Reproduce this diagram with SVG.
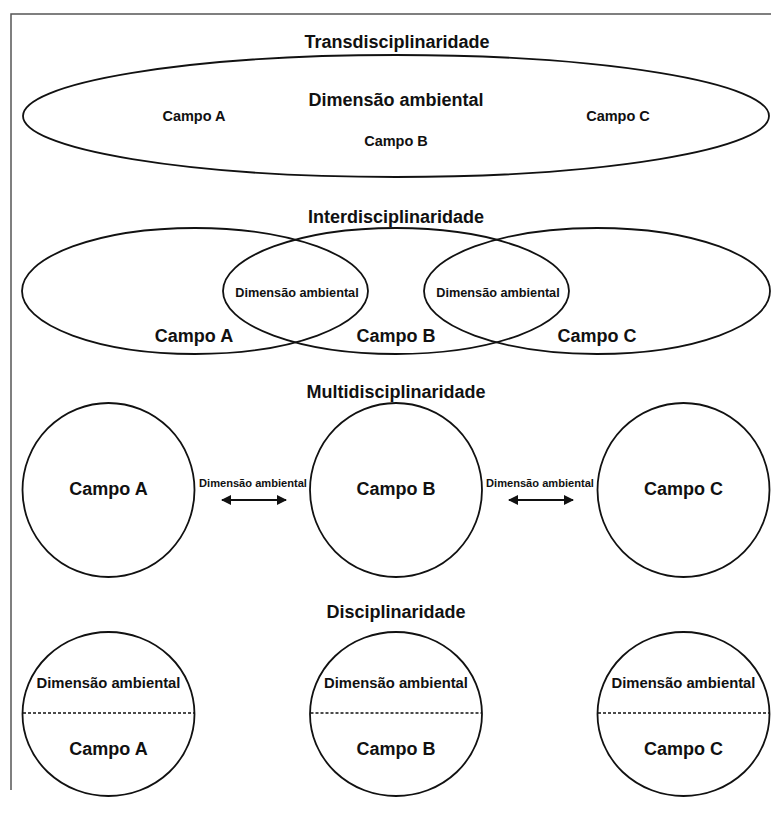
<svg xmlns="http://www.w3.org/2000/svg" width="771" height="814" viewBox="0 0 771 814">
<defs>
<style>
text{font-family:"Liberation Sans",Arial,sans-serif;font-weight:bold;fill:#111;text-anchor:middle}
.t{font-size:18px}
.sh{fill:#fff;stroke:#111;stroke-width:1.8}
.dash{stroke:#111;stroke-width:1.5;stroke-dasharray:3,2}
.conn{stroke:#111;stroke-width:2;fill:none}
</style>
<marker id="ah" viewBox="0 0 10 10" refX="9" refY="5" markerWidth="5" markerHeight="5" orient="auto-start-reverse" markerUnits="strokeWidth">
<path d="M0,0 L10,5 L0,10 z" fill="#111"/>
</marker>
</defs>
<rect width="771" height="814" fill="#fff"/>
<g id="frame">
<path d="M11,790 V14 H771" fill="none" stroke="#555" stroke-width="1.5"/>
</g>

<g id="trans">
<text class="t" x="397" y="48">Transdisciplinaridade</text>
<ellipse class="sh" cx="396" cy="116" rx="373" ry="61"/>
<text x="396" y="106" style="font-size:18px">Dimensão ambiental</text>
<text x="194" y="121" style="font-size:14.5px">Campo A</text>
<text x="396" y="146" style="font-size:14.5px">Campo B</text>
<text x="618" y="121" style="font-size:14.5px">Campo C</text>
</g>

<g id="inter">
<text class="t" x="396" y="223">Interdisciplinaridade</text>
<ellipse cx="195" cy="291" rx="173" ry="63" fill="none" stroke="#111" stroke-width="1.8"/>
<ellipse cx="396" cy="291" rx="173" ry="63" fill="none" stroke="#111" stroke-width="1.8"/>
<ellipse cx="597" cy="291" rx="173" ry="63" fill="none" stroke="#111" stroke-width="1.8"/>
<text x="297" y="297" style="font-size:12.7px">Dimensão ambiental</text>
<text x="498" y="297" style="font-size:12.7px">Dimensão ambiental</text>
<text x="194" y="342" style="font-size:18px">Campo A</text>
<text x="396" y="342" style="font-size:18px">Campo B</text>
<text x="597" y="342" style="font-size:18px">Campo C</text>
</g>

<g id="multi">
<text class="t" x="396" y="398">Multidisciplinaridade</text>
<g id="multi-a">
<ellipse class="sh" cx="108.5" cy="490" rx="86" ry="87"/>
<text x="108.5" y="495" style="font-size:18px">Campo A</text>
</g>
<g id="multi-b">
<ellipse class="sh" cx="396" cy="490" rx="86" ry="87"/>
<text x="396" y="495" style="font-size:18px">Campo B</text>
</g>
<g id="multi-c">
<ellipse class="sh" cx="683.5" cy="490" rx="86" ry="87"/>
<text x="683.5" y="495" style="font-size:18px">Campo C</text>
</g>
<text x="253" y="487" style="font-size:11.1px">Dimensão ambiental</text>
<text x="540" y="487" style="font-size:11.1px">Dimensão ambiental</text>
</g>

<g id="connectors">
<line class="conn" x1="222" y1="500" x2="286" y2="500" marker-start="url(#ah)" marker-end="url(#ah)"/>
<line class="conn" x1="509" y1="500" x2="573" y2="500" marker-start="url(#ah)" marker-end="url(#ah)"/>
</g>

<g id="disc">
<text class="t" x="396" y="618">Disciplinaridade</text>
<g id="disc-a">
<ellipse class="sh" cx="108.5" cy="714" rx="86" ry="82"/>
<line class="dash" x1="23" y1="713" x2="194" y2="713"/>
<text x="108.5" y="688" style="font-size:14.8px">Dimensão ambiental</text>
<text x="108.5" y="755" style="font-size:18px">Campo A</text>
</g>
<g id="disc-b">
<ellipse class="sh" cx="396" cy="714" rx="86" ry="82"/>
<line class="dash" x1="310.5" y1="713" x2="481.5" y2="713"/>
<text x="396" y="688" style="font-size:14.8px">Dimensão ambiental</text>
<text x="396" y="755" style="font-size:18px">Campo B</text>
</g>
<g id="disc-c">
<ellipse class="sh" cx="683.5" cy="714" rx="86" ry="82"/>
<line class="dash" x1="598" y1="713" x2="769" y2="713"/>
<text x="683.5" y="688" style="font-size:14.8px">Dimensão ambiental</text>
<text x="683.5" y="755" style="font-size:18px">Campo C</text>
</g>
</g>
</svg>
